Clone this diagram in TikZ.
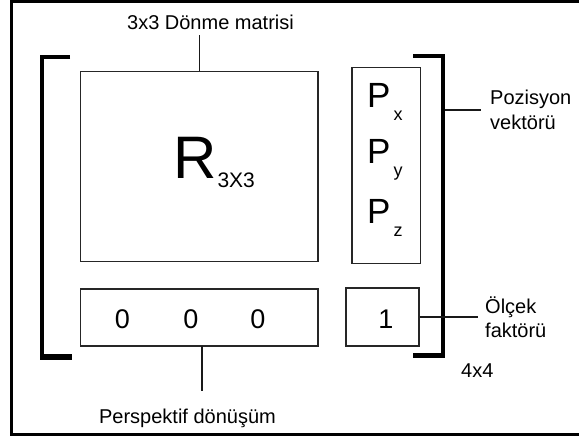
\documentclass[tikz,border=0pt]{standalone}
\usepackage{fontspec}
\setmainfont{Liberation Sans}
\begin{document}
\begin{tikzpicture}[x=1pt,y=-1pt,
  box/.style={draw=black!85, line width=1.6pt, rectangle, inner sep=0pt},
  lbl/.style={inner sep=0pt, font=\fontsize{20}{25}\selectfont},
  digit/.style={inner sep=0pt, anchor=base, font=\fontsize{27}{27}\selectfont},
  pent/.style={inner sep=0pt, anchor=base west},
  conn/.style={line width=1.4pt, black!90},
  brk/.style={line width=3.6pt, black}
]
\useasboundingbox (0,0) rectangle (579,439);
\fill[white] (0,0) rectangle (579,439);

% outer frame
\draw[line width=2.6pt, line join=miter] (580,1.3) -- (11.3,1.3) -- (11.3,434.3) -- (580,434.3);

% brackets of the 4x4 matrix
\draw[brk, line join=miter] (70,57) -- (42,57) -- (42,358) -- (72,358);
\draw[line width=6pt] (40,357) -- (72,357);
\draw[brk, line join=miter] (413,56) -- (443,56) -- (443,356) -- (413,356);
\draw[line width=5pt] (413,355.5) -- (445,355.5);

% matrix blocks
\node[box, minimum width=237.5pt, minimum height=190pt] (rbox) at (199.25,166.5) {};
\node[box, minimum width=68.5pt, minimum height=196pt] (pbox) at (386.25,165.5) {};
\node[box, minimum width=237.5pt, minimum height=57pt] (zbox) at (199.25,317.5) {};
\node[box, minimum width=73pt, minimum height=58pt] (obox) at (382.5,317) {};

% rotation block content
\node[pent] (rsym) at (173,178)
  {\fontsize{60}{60}\selectfont R\hspace{1pt}\raisebox{-9pt}{\fontsize{21}{21}\selectfont 3X3}};

% position vector content
\node[pent] (px) at (367,107)
  {\fontsize{35}{35}\selectfont P\hspace{3pt}\raisebox{-13pt}{\fontsize{18}{18}\selectfont x}};
\node[pent] (py) at (367,163)
  {\fontsize{35}{35}\selectfont P\hspace{3pt}\raisebox{-13pt}{\fontsize{18}{18}\selectfont y}};
\node[pent] (pz) at (367,223)
  {\fontsize{35}{35}\selectfont P\hspace{3pt}\raisebox{-13pt}{\fontsize{18}{18}\selectfont z}};

% perspective row and scale factor
\node[digit] (z1) at (122.5,328) {0};
\node[digit] (z2) at (191,328) {0};
\node[digit] (z3) at (258,328) {0};
\node[digit] (one) at (386,328) {1};

% labels
\node[lbl, anchor=base] (toplbl) at (210.5,29) {3x3 Dönme matrisi};
\node[lbl, anchor=base] (botlbl) at (187.5,423) {Perspektif dönüşüm};
\node[lbl, anchor=base west] (poslbl) at (490,104) {Pozisyon};
\node[lbl, anchor=base west] (poslblb) at (490,129) {vektörü};
\node[lbl, anchor=base west] (sclbl) at (485,313) {Ölçek};
\node[lbl, anchor=base west] (sclblb) at (485,337) {faktörü};
\node[lbl, anchor=base west] (dimlbl) at (461,377) {4x4};

% leader lines
\coordinate (tend) at (199.25,35);
\coordinate (bstart) at (202,346);
\coordinate (bend) at (202,391);
\coordinate (pstart) at (445,110);
\coordinate (pend) at (481,110);
\coordinate (send) at (478,317);
\draw[conn] (rbox.north) -- (tend);
\draw[conn] (bstart) -- (bend);
\draw[conn] (pstart) -- (pend);
\draw[conn] (obox.east) -- (send);
\end{tikzpicture}
\end{document}
